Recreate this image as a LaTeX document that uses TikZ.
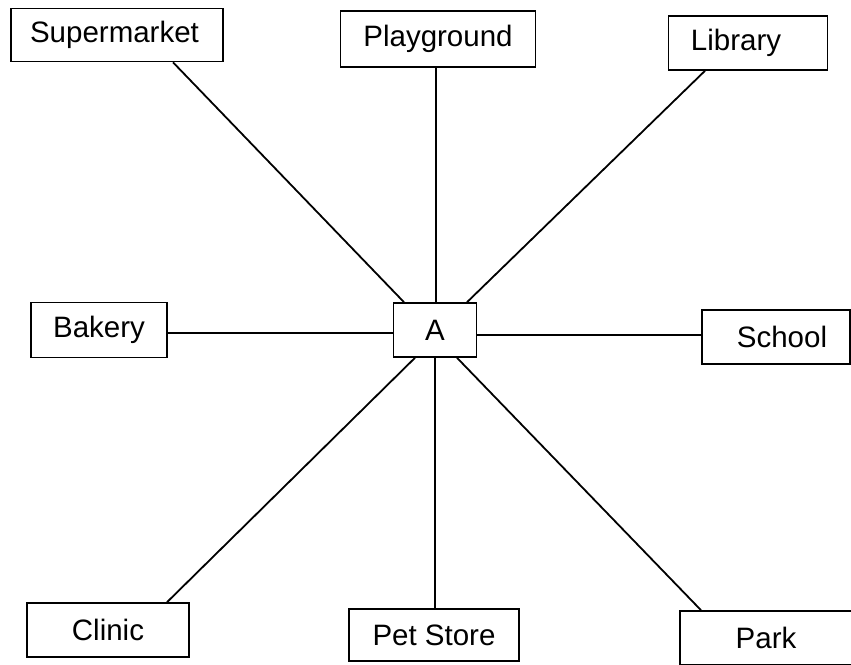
\documentclass[tikz,border=0pt]{standalone}
\usepackage{fontspec}
\setmainfont{Liberation Sans}
\usetikzlibrary{calc}
\begin{document}
\begin{tikzpicture}[x=1pt,y=-1pt,
  place/.style={draw, line width=1.6pt, rectangle, inner sep=0pt, font=\fontsize{29.5}{31}\selectfont},
  link/.style={line width=1.8pt}]
\useasboundingbox (0,0) rectangle (851,664);
\node[place, minimum width=212, minimum height=53] (sm) at (117,35) {Supermarket\hspace*{5pt}};
\node[place, minimum width=195, minimum height=56] (pg) at (438,39) {Playground};
\node[place, minimum width=159, minimum height=54] (lib) at (748,43) {Library\hspace*{24pt}};
\node[place, minimum width=136, minimum height=55] (bak) at (99,330) {Bakery};
\node[place, minimum width=83, minimum height=54] (A) at (435,330) {A};
\node[place, minimum width=148, minimum height=54] (sch) at (776,337) {\hspace*{12pt}School};
\node[place, minimum width=162, minimum height=54] (cl) at (108,630) {Clinic};
\node[place, minimum width=170, minimum height=52] (ps) at (434,635) {Pet Store};
\node[place, minimum width=172, minimum height=54] (pk) at (766,638) {Park};
\draw[link] ([xshift=56]sm.south) -- ([xshift=-31]A.north);
\draw[link] ([xshift=1]A.north) -- ([xshift=1]A.north |- pg.south);
\draw[link] ([xshift=-43]lib.south) -- ([xshift=32]A.north);
\draw[link] ([yshift=-3]A.west) -- ([yshift=-3]A.west -| bak.east);
\draw[link] ([yshift=-5]A.east) -- ([yshift=-5]A.east -| sch.west);
\draw[link] ([xshift=59]cl.north) -- ([xshift=-20]A.south);
\draw[link] (A.south) -- (A.south |- ps.north);
\draw[link] ([xshift=-65]pk.north) -- ([xshift=22]A.south);
\end{tikzpicture}
\end{document}
